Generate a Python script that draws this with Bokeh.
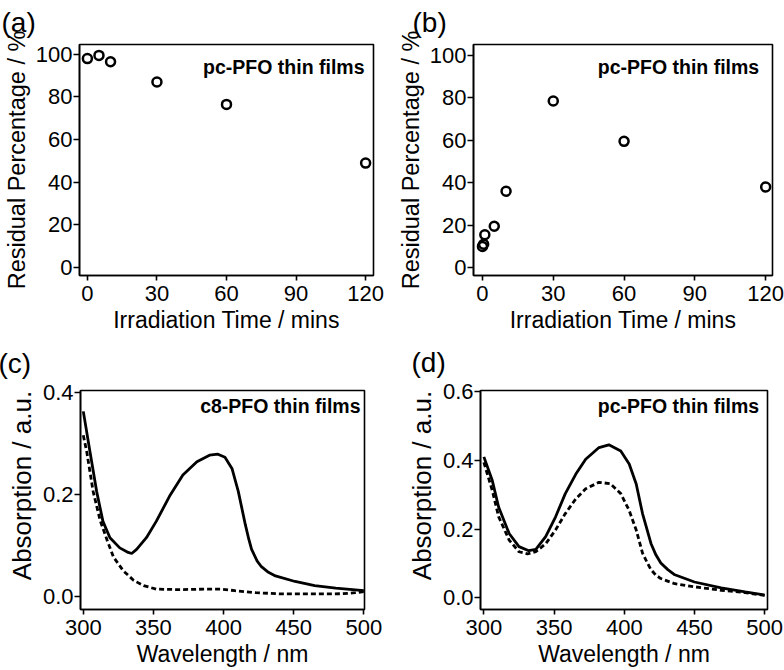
from bokeh.plotting import figure
from bokeh.models import Label, FixedTicker, Range1d, CustomJSTickFormatter
from bokeh.layouts import column, row
from bokeh.embed import file_html
from bokeh.resources import INLINE

# ---- data ----
time_a = [0, 5, 10, 30, 60, 120]
resid_a = [98, 99.5, 96.5, 87, 76.5, 49]

time_b = [0, 0.5, 1, 5, 10, 30, 60, 120]
resid_b = [10, 11, 15.5, 19.5, 36, 78.5, 59.5, 38]

wl_c_solid = [300, 305, 309.5, 314, 319, 326, 332, 334.5, 338, 345, 352, 362, 371, 381, 390, 396, 401, 406, 410.5, 415.5, 418, 420, 424, 427, 432, 437, 451, 465, 480, 500]
abs_c_solid = [0.363, 0.28, 0.206, 0.147, 0.115, 0.095, 0.086, 0.084, 0.092, 0.115, 0.147, 0.199, 0.238, 0.264, 0.277, 0.279, 0.273, 0.251, 0.206, 0.141, 0.112, 0.092, 0.069, 0.058, 0.047, 0.040, 0.029, 0.021, 0.016, 0.011]

wl_c_dash = [300, 302.5, 307, 312, 317, 321.5, 328.5, 336, 343, 352, 369, 386, 398, 408, 423, 442, 466, 485, 494, 500]
abs_c_dash = [0.316, 0.283, 0.206, 0.149, 0.110, 0.077, 0.050, 0.031, 0.021, 0.014, 0.013, 0.014, 0.014, 0.011, 0.007, 0.0045, 0.0045, 0.005, 0.007, 0.009]

wl_d_solid = [300, 306, 310.5, 318, 325, 332, 337, 344, 351, 358, 365.5, 372.5, 382, 389, 397.5, 403.5, 408.5, 413, 419, 422.5, 426, 431, 436, 450, 469, 486, 500]
abs_d_solid = [0.410, 0.341, 0.264, 0.187, 0.149, 0.137, 0.141, 0.178, 0.235, 0.303, 0.360, 0.403, 0.437, 0.445, 0.427, 0.389, 0.331, 0.245, 0.158, 0.125, 0.101, 0.082, 0.067, 0.046, 0.029, 0.017, 0.008]

wl_d_dash = [300, 306, 310.5, 318, 325, 331, 337, 344, 351, 358, 365.5, 372.5, 382, 390, 397.5, 403.5, 408.5, 413, 416.5, 419, 422.5, 426, 436, 450, 469, 486, 500]
abs_d_dash = [0.394, 0.312, 0.236, 0.168, 0.134, 0.128, 0.134, 0.157, 0.197, 0.245, 0.288, 0.317, 0.336, 0.332, 0.303, 0.254, 0.197, 0.130, 0.101, 0.082, 0.066, 0.056, 0.041, 0.032, 0.022, 0.015, 0.007]

time_ticks = [0, 30, 60, 90, 120]
pct_ticks = [0, 20, 40, 60, 80, 100]
wl_ticks = [300, 350, 400, 450, 500]
abs_ticks_c = [0.0, 0.2, 0.4]
abs_ticks_d = [0.0, 0.2, 0.4, 0.6]

FONT = "Liberation Sans"
PAD = "\u00a0" * 4  # shifts the spectra y-titles a little upward, as in the original


def make_fig(w, h, bl, br, bt, bb, xr, yr, panel, xlabel, ylabel,
             title_offset, title_standoff, ylabel_size):
    p = figure(width=w, height=h, output_backend="svg", toolbar_location=None,
               x_range=Range1d(*xr), y_range=Range1d(*yr),
               min_border_left=bl, min_border_right=br,
               min_border_top=bt, min_border_bottom=bb, title=panel)
    p.xgrid.visible = False
    p.ygrid.visible = False
    p.outline_line_color = "black"
    p.outline_line_width = 1.6
    p.outline_line_alpha = 1
    p.background_fill_color = "white"
    p.border_fill_color = "white"
    p.title.text_font = FONT
    p.title.text_font_size = "28px"
    p.title.text_font_style = "normal"
    p.title.text_color = "black"
    p.title.align = "left"
    p.title.vertical_align = "top"
    p.title.text_line_height = 1.0
    p.title.offset = title_offset
    p.title.standoff = title_standoff
    for ax in (p.xaxis[0], p.yaxis[0]):
        ax.axis_line_width = 1.6
        ax.axis_line_color = "black"
        ax.major_tick_line_width = 1.6
        ax.major_tick_line_color = "black"
        ax.major_tick_in = 0
        ax.minor_tick_line_color = None
        ax.major_label_text_font = FONT
        ax.major_label_text_font_size = "22px"
        ax.major_label_text_color = "black"
        ax.axis_label_text_font = FONT
        ax.axis_label_text_font_style = "normal"
        ax.axis_label_text_color = "black"
    p.xaxis[0].major_tick_out = 5
    p.yaxis[0].major_tick_out = 6
    p.xaxis[0].major_label_standoff = 5
    p.yaxis[0].major_label_standoff = 1
    p.xaxis[0].axis_label_standoff = 3
    p.yaxis[0].axis_label_standoff = 3
    p.xaxis[0].axis_label_text_font_size = "23px"
    p.yaxis[0].axis_label_text_font_size = ylabel_size
    p.xaxis[0].axis_label = xlabel
    p.yaxis[0].axis_label = ylabel
    return p


def film(p, x, y, text):
    p.add_layout(Label(x=x, y=y, x_units="screen", y_units="screen", text=text,
                       text_align="right", text_baseline="alphabetic",
                       text_font=FONT, text_font_size="19.5px", text_font_style="bold",
                       text_color="black"))


# (a)  frame: L75 R373 T44 B277
pa = make_fig(392, 335, 75, 19, 44, 58, (-3.4, 123.4), (-3.7, 104.6),
              "(a)", "Irradiation Time / mins", "Residual Percentage / %", -78, 10, "23.5px")
pa.scatter(time_a, resid_a, size=9, fill_color=None, line_color="black", line_width=2.5)
pa.xaxis[0].ticker = FixedTicker(ticks=time_ticks)
pa.yaxis[0].ticker = FixedTicker(ticks=pct_ticks)
film(pa, 285, 209, "pc-PFO thin films")

# (b)  frame: L473 R772 T43 B277
pb = make_fig(392, 335, 81, 12, 43, 58, (-3.8, 122.9), (-3.7, 105.1),
              "(b)", "Irradiation Time / mins", "Residual Percentage / %", -61, 9, "23.5px")
pb.scatter(time_b, resid_b, size=9, fill_color=None, line_color="black", line_width=2.5)
pb.xaxis[0].ticker = FixedTicker(ticks=time_ticks)
pb.yaxis[0].ticker = FixedTicker(ticks=pct_ticks)
film(pb, 285.7, 209, "pc-PFO thin films")

# (c)  frame: L80 R364 T388 B609
pc = make_fig(392, 335, 80, 28, 53, 61, (298, 500.5), (-0.026, 0.404),
              "(c)", "Wavelength / nm", PAD + "Absorption / a.u.", -82, 19, "26px")
pc.line(wl_c_solid, abs_c_solid, line_color="black", line_width=2.8)
pc.line(wl_c_dash, abs_c_dash, line_color="black", line_width=2.8, line_dash="5 3")
pc.xaxis[0].ticker = FixedTicker(ticks=wl_ticks)
pc.yaxis[0].ticker = FixedTicker(ticks=abs_ticks_c)
pc.yaxis[0].formatter = CustomJSTickFormatter(code="return tick.toFixed(1);")
film(pc, 280, 204, "c8-PFO thin films")

# (d)  frame: L480 R767 T390 B610
pd_ = make_fig(392, 335, 88, 17, 55, 60, (297.6, 502), (-0.034, 0.603),
               "(d)", "Wavelength / nm", PAD + "Absorption / a.u.", -69, 21, "26px")
pd_.line(wl_d_solid, abs_d_solid, line_color="black", line_width=2.8)
pd_.line(wl_d_dash, abs_d_dash, line_color="black", line_width=2.8, line_dash="5 3")
pd_.xaxis[0].ticker = FixedTicker(ticks=wl_ticks)
pd_.yaxis[0].ticker = FixedTicker(ticks=abs_ticks_d)
pd_.yaxis[0].formatter = CustomJSTickFormatter(code="return tick.toFixed(1);")
film(pd_, 278.7, 203.3, "pc-PFO thin films")

layout = column(row(pa, pb), row(pc, pd_))
open("out.html", "w").write(file_html(layout, INLINE))
